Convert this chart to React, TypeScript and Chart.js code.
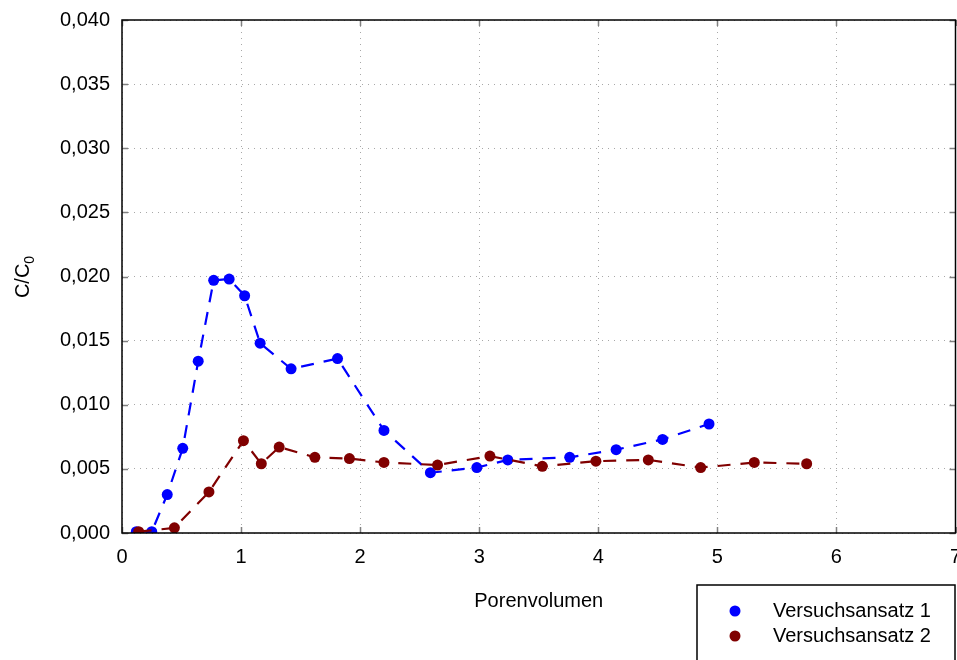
import React, { useEffect, useRef } from "react";
import { Chart, registerables } from "chart.js";

Chart.register(...registerables);

const FONT = 'Arial, "Liberation Sans", sans-serif';

const series1Name = "Versuchsansatz 1";
const series2Name = "Versuchsansatz 2";
const xTitle = "Porenvolumen";
const yTitleMain = "C/C";
const yTitleSub = "0";

const series1X = [0.12, 0.25, 0.38, 0.51, 0.64, 0.77, 0.9, 1.03, 1.16, 1.42, 1.81, 2.2, 2.59, 2.98, 3.24, 3.76, 4.15, 4.54, 4.93];
const series1Y = [0.0001, 0.0001, 0.003, 0.0066, 0.0134, 0.0197, 0.0198, 0.0185, 0.0148, 0.0128, 0.0136, 0.008, 0.0047, 0.0051, 0.0057, 0.0059, 0.0065, 0.0073, 0.0085];

const series2X = [0.14, 0.44, 0.73, 1.02, 1.17, 1.32, 1.62, 1.91, 2.2, 2.65, 3.09, 3.53, 3.98, 4.42, 4.86, 5.31, 5.75];
const series2Y = [0.0001, 0.0004, 0.0032, 0.0072, 0.0054, 0.0067, 0.0059, 0.0058, 0.0055, 0.0053, 0.006, 0.0052, 0.0056, 0.0057, 0.0051, 0.0055, 0.0054];

const BLUE = "#0000ff";
const RED = "#800000";

const CANVAS_W = 961;
const VIEW_W = 957;
const VIEW_H = 660;

const toPoints = (xs: number[], ys: number[]) => xs.map((x, i) => ({ x, y: ys[i] }));

const decorPlugin = {
  id: "decor",
  afterDraw(chart: any) {
    const ctx = chart.ctx;
    const { left, right, top, bottom } = chart.chartArea;
    const xs = chart.scales.x;
    const ys = chart.scales.y;
    ctx.save();
    // inner ticks
    ctx.strokeStyle = "#808080";
    ctx.lineWidth = 1.5;
    ctx.setLineDash([]);
    xs.ticks.forEach((t: any) => {
      const px = Math.round(xs.getPixelForValue(t.value)) + 0.5;
      ctx.beginPath();
      ctx.moveTo(px, bottom);
      ctx.lineTo(px, bottom - 6);
      ctx.moveTo(px, top);
      ctx.lineTo(px, top + 6);
      ctx.stroke();
    });
    ys.ticks.forEach((t: any) => {
      const py = Math.round(ys.getPixelForValue(t.value)) + 0.5;
      ctx.beginPath();
      ctx.moveTo(left, py);
      ctx.lineTo(left + 6, py);
      ctx.moveTo(right, py);
      ctx.lineTo(right - 6, py);
      ctx.stroke();
    });
    // frame
    ctx.strokeStyle = "#000";
    ctx.lineWidth = 1.5;
    ctx.strokeRect(left, top, right - left, bottom - top);

    // x title
    ctx.fillStyle = "#000";
    ctx.font = `20px ${FONT}`;
    ctx.textAlign = "center";
    ctx.textBaseline = "middle";
    ctx.fillText(xTitle, (left + right) / 2, 601);

    // y title with subscript
    ctx.save();
    ctx.translate(29, 0);
    ctx.rotate(-Math.PI / 2);
    ctx.font = `20px ${FONT}`;
    const wMain = ctx.measureText(yTitleMain).width;
    ctx.font = `14px ${FONT}`;
    const wSub = ctx.measureText(yTitleSub).width;
    const total = wMain + wSub;
    const cy = 277;
    const startX = -(cy + total / 2);
    ctx.textAlign = "left";
    ctx.textBaseline = "alphabetic";
    ctx.font = `20px ${FONT}`;
    ctx.fillText(yTitleMain, startX, 0);
    ctx.font = `14px ${FONT}`;
    ctx.fillText(yTitleSub, startX + wMain, 5);
    ctx.restore();

    // legend
    ctx.strokeStyle = "#000";
    ctx.lineWidth = 1.5;
    ctx.fillStyle = "#fff";
    ctx.fillRect(697, 585, 258, 80);
    ctx.strokeRect(697, 585, 258, 80);
    const rows = [
      { name: series1Name, color: BLUE, y: 611 },
      { name: series2Name, color: RED, y: 636 },
    ];
    rows.forEach((r) => {
      ctx.fillStyle = r.color;
      ctx.beginPath();
      ctx.arc(735, r.y, 5.5, 0, Math.PI * 2);
      ctx.fill();
      ctx.fillStyle = "#000";
      ctx.font = `20px ${FONT}`;
      ctx.textAlign = "left";
      ctx.textBaseline = "middle";
      ctx.fillText(r.name, 773, r.y);
    });
    ctx.restore();
  },
};

export default function App() {
  const ref = useRef<HTMLCanvasElement | null>(null);
  useEffect(() => {
    if (!ref.current) return;
    const chart = new Chart(ref.current, {
      type: "scatter",
      data: {
        datasets: [
          {
            label: series1Name,
            data: toPoints(series1X, series1Y),
            showLine: true,
            borderColor: BLUE,
            backgroundColor: BLUE,
            borderWidth: 2.2,
            borderDash: [13, 10],
            pointRadius: 5.5,
            pointBorderWidth: 0,
            pointBackgroundColor: BLUE,
            order: 1,
          },
          {
            label: series2Name,
            data: toPoints(series2X, series2Y),
            showLine: true,
            borderColor: RED,
            backgroundColor: RED,
            borderWidth: 2.2,
            borderDash: [13, 10],
            pointRadius: 5.5,
            pointBorderWidth: 0,
            pointBackgroundColor: RED,
            order: 0,
          },
        ],
      },
      options: {
        animation: false,
        responsive: false,
        maintainAspectRatio: false,
        layout: { padding: { left: 0, top: 20, right: 0, bottom: 0 } },
        plugins: { legend: { display: false }, tooltip: { enabled: false } },
        scales: {
          x: {
            type: "linear",
            min: 0,
            max: 7,
            border: { display: false, dash: [1, 5] },
            grid: { color: "#a8a8a8", lineWidth: 1, drawTicks: false },
            ticks: {
              stepSize: 1,
              padding: 12,
              color: "#000",
              font: { family: FONT, size: 20 },
              maxRotation: 0,
            },
            afterFit(scale: any) {
              scale.height = 127;
              scale.paddingLeft = 0;
              scale.paddingRight = 0;
            },
          },
          y: {
            type: "linear",
            min: 0,
            max: 0.04,
            border: { display: false, dash: [1, 5] },
            grid: { color: "#a8a8a8", lineWidth: 1, drawTicks: false },
            ticks: {
              stepSize: 0.005,
              padding: 12,
              color: "#000",
              font: { family: FONT, size: 20 },
              callback: (v: any) => Number(v).toFixed(3).replace(".", ","),
            },
            afterFit(scale: any) {
              scale.width = 122;
              scale.paddingTop = 0;
              scale.paddingBottom = 0;
            },
          },
        },
      },
      plugins: [decorPlugin],
    } as any);
    return () => chart.destroy();
  }, []);
  return (
    <div style={{ position: "fixed", left: 0, top: 0, width: VIEW_W, height: VIEW_H, overflow: "hidden", background: "#fff" }}>
      <canvas ref={ref} width={CANVAS_W} height={VIEW_H} style={{ width: CANVAS_W, height: VIEW_H, display: "block" }} />
    </div>
  );
}
